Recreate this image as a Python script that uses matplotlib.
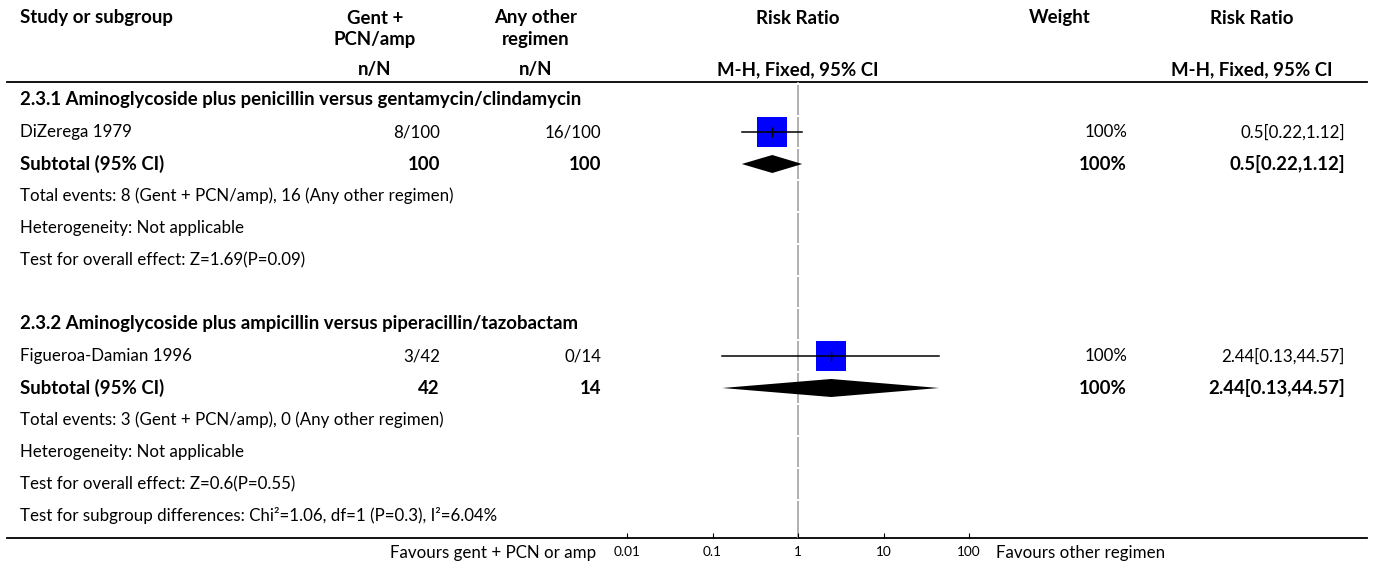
import matplotlib.pyplot as plt

plt.rcParams['font.family'] = ['Lato', 'DejaVu Sans']

# ---- data ----
studies = ["DiZerega 1979", "Figueroa-Damian 1996"]
events_trt = [8, 3]
n_trt = [100, 42]
events_ctl = [16, 0]
n_ctl = [100, 14]
rr = [0.5, 2.44]
ci_lo = [0.22, 0.13]
ci_hi = [1.12, 44.57]
weights = ["100%", "100%"]

subgroups = ["2.3.1 Aminoglycoside plus penicillin versus gentamycin/clindamycin",
             "2.3.2 Aminoglycoside plus ampicillin versus piperacillin/tazobactam"]
total_events = ["Total events: 8 (Gent + PCN/amp), 16 (Any other regimen)",
                "Total events: 3 (Gent + PCN/amp), 0 (Any other regimen)"]
heterogeneity = ["Heterogeneity: Not applicable", "Heterogeneity: Not applicable"]
overall = ["Test for overall effect: Z=1.69(P=0.09)",
           "Test for overall effect: Z=0.6(P=0.55)"]
subgroup_diff = "Test for subgroup differences: Chi\u00b2=1.06, df=1 (P=0.3), I\u00b2=6.04%"

tick_vals = [0.01, 0.1, 1, 10, 100]
tick_labels = ["0.01", "0.1", "1", "10", "100"]

# ---- layout (pixels) ----
W, H = 1373, 568
fig = plt.figure(figsize=(W / 100, H / 100), dpi=100)
tab = fig.add_axes([0, 0, 1, 1])
tab.set_xlim(0, W)
tab.set_ylim(H, 0)
tab.axis('off')

fs = 12.2      # regular text
fsb = 13.4     # bold text
x_study = 20
x_trt_c, x_ctl_c = 375, 536
x_trt = 440
x_ctl = 601
x_plot = 798
x_wt_c, x_wt = 1060, 1127
x_rr_c, x_rr = 1252, 1345
row0, step = 100, 32
line_top, line_bot = 82, 538

def row_y(i):
    return row0 + step * i

# headers
hb = dict(fontsize=fsb, fontweight='bold', va='center')
nt = dict(fontsize=fs, va='center')
tab.text(x_study, 18, "Study or subgroup", ha='left', **hb)
tab.text(x_trt_c, 18, "Gent +", ha='center', **hb)
tab.text(x_trt_c, 40, "PCN/amp", ha='center', **hb)
tab.text(x_ctl_c, 18, "Any other", ha='center', **hb)
tab.text(x_ctl_c, 40, "regimen", ha='center', **hb)
tab.text(x_plot, 18, "Risk Ratio", ha='center', **hb)
tab.text(x_wt_c, 18, "Weight", ha='center', **hb)
tab.text(x_rr_c, 18, "Risk Ratio", ha='center', **hb)
tab.text(x_trt_c, 70, "n/N", ha='center', **hb)
tab.text(x_ctl_c, 70, "n/N", ha='center', **hb)
tab.text(x_plot, 70, "M-H, Fixed, 95% CI", ha='center', **hb)
tab.text(x_rr_c, 70, "M-H, Fixed, 95% CI", ha='center', **hb)
tab.plot([7, 1367], [line_top, line_top], color='black', lw=1.3)
tab.plot([7, 1367], [line_bot, line_bot], color='black', lw=1.3)

# forest axes
dec = 85.5
fl, fr = 600, 1000
fax = fig.add_axes([fl / W, (H - line_bot) / H, (fr - fl) / W, (line_bot - line_top) / H])
fax.set_xscale('log')
fax.set_xlim(10 ** ((fl - x_plot) / dec), 10 ** ((fr - x_plot) / dec))
fax.set_ylim(line_bot, line_top)
fax.patch.set_alpha(0)
for s in fax.spines.values():
    s.set_visible(False)
fax.set_xticks(tick_vals)
fax.set_xticklabels(tick_labels)
fax.minorticks_off()
fax.tick_params(axis='x', direction='in', length=3.6, width=0.8, labelsize=9.8, pad=6)
fax.set_yticks([])

# null line in segments per row
nrows = 14
seg_lo = [line_top] + [row_y(i) - step / 2 + 1 for i in range(nrows)]
seg_hi = [row_y(0) - step / 2 - 1] + [row_y(i) + step / 2 - 1 for i in range(nrows)]
seg_hi[-1] = line_bot
fax.vlines([1] * len(seg_lo), seg_lo, seg_hi, color='#aaaaaa', lw=1.3, zorder=1)

for g in range(2):
    base = 7 * g
    study_row = row_y(base + 1)
    sub_row = row_y(base + 2)
    tab.text(x_study, row_y(base), subgroups[g], ha='left', **hb)
    tab.text(x_study, study_row, studies[g], ha='left', **nt)
    tab.text(x_trt, study_row, f"{events_trt[g]}/{n_trt[g]}", ha='right', **nt)
    tab.text(x_ctl, study_row, f"{events_ctl[g]}/{n_ctl[g]}", ha='right', **nt)
    tab.text(x_wt, study_row, weights[g], ha='right', **nt)
    tab.text(x_rr, study_row, f"{rr[g]}[{ci_lo[g]},{ci_hi[g]}]", ha='right', **nt)
    tab.text(x_study, sub_row, "Subtotal (95% CI)", ha='left', **hb)
    tab.text(x_trt, sub_row, f"{n_trt[g]}", ha='right', **hb)
    tab.text(x_ctl, sub_row, f"{n_ctl[g]}", ha='right', **hb)
    tab.text(x_wt, sub_row, weights[g], ha='right', **hb)
    tab.text(x_rr, sub_row, f"{rr[g]}[{ci_lo[g]},{ci_hi[g]}]", ha='right', **hb)
    tab.text(x_study, row_y(base + 3), total_events[g], ha='left', **nt)
    tab.text(x_study, row_y(base + 4), heterogeneity[g], ha='left', **nt)
    tab.text(x_study, row_y(base + 5), overall[g], ha='left', **nt)

    # study marker
    fax.plot([rr[g]], [study_row], marker='s', ms=22.3, color='#0000ff', mew=0, zorder=2)
    fax.plot([ci_lo[g], ci_hi[g]], [study_row, study_row], color='black', lw=1.1, zorder=3)
    fax.plot([rr[g]], [study_row], marker='|', ms=6.5, mew=1, color='black', zorder=4)
    # subtotal diamond
    fax.fill([ci_lo[g], rr[g], ci_hi[g], rr[g]],
             [sub_row, sub_row - 9, sub_row, sub_row + 9], color='black', lw=0, zorder=3)

tab.text(x_study, row_y(13), subgroup_diff, ha='left', **nt)
tab.text(596, 553, "Favours gent + PCN or amp", ha='right', **nt)
tab.text(996, 553, "Favours other regimen", ha='left', **nt)

fig.savefig("out.png", dpi=100)
